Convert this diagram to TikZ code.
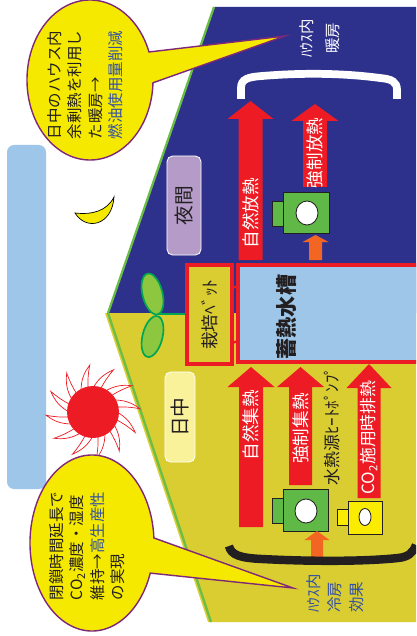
\documentclass[tikz,border=0pt]{standalone}
\usepackage{fontspec}
\setmainfont{Noto Sans CJK JP}
\usetikzlibrary{calc}

\definecolor{night}{RGB}{46,49,140}
\definecolor{day}{RGB}{218,205,50}
\definecolor{balloon}{RGB}{245,233,0}
\definecolor{balloonedge}{RGB}{128,40,120}
\definecolor{heat}{RGB}{237,28,36}
\definecolor{water}{RGB}{157,198,233}
\definecolor{roof}{RGB}{106,189,69}
\definecolor{leaf}{RGB}{141,198,63}
\definecolor{leafedge}{RGB}{0,166,81}
\definecolor{pumpgreen}{RGB}{96,184,70}
\definecolor{pumpyellow}{RGB}{250,236,0}
\definecolor{flow}{RGB}{242,101,34}
\definecolor{ink}{RGB}{35,31,32}
\definecolor{note}{RGB}{50,80,165}
\definecolor{dusk}{RGB}{180,155,200}
\definecolor{noon}{RGB}{250,242,155}

% block arrow: colour, centre x, shaft half width, head half width, tip y, head y, foot y
\newcommand{\blockarrow}[7]{%
  \fill[#1] (#2-#3,#7) -- (#2-#3,#6) -- (#2-#4,#6) -- (#2,#5) -- (#2+#4,#6) -- (#2+#3,#6) -- (#2+#3,#7) -- cycle;}

\begin{document}
\begin{tikzpicture}[x=0.025cm, y=-0.025cm, every node/.style={inner sep=0pt}]
    \tikzset{tag/.style={text=ink, rotate=90, font=\fontsize{12.5}{14}\selectfont},
      onarrow/.style={text=white, rotate=90, font=\fontsize{12.5}{14}\selectfont},
      balloontext/.style={text=ink, rotate=90, align=left, font=\fontsize{11}{14.5}\selectfont},
      balloonshape/.style={draw=balloonedge, fill=balloon, line width=1pt},
      frame/.style={draw=heat, line width=2.2pt},
      link/.style={draw=heat, line width=1.6pt},
      badge/.style={draw=white, rounded corners=4pt, line width=0.6pt, text=ink, rotate=90,
        font=\fontsize{14}{16}\selectfont},
      pumpbox/.style={draw=ink, line width=0.6pt}};
    \useasboundingbox (0,0) rectangle (416,636);
    \clip (0,0) rectangle (416,636);
    \fill[white] (0,0) rectangle (416,636);

    % house: night half on top of day half
    \fill[night] (214,7) -- (416,7) -- (416,313) -- (108,313) -- cycle;
    \fill[day] (105,313) -- (416,313) -- (416,622) -- (208,622) -- cycle;
    \draw[roof, line width=1.6pt] (214,7) -- (108,313) -- (211,622);

    % sky
    \fill[water, rounded corners=5pt] (7,145) rectangle (46,489);

    % sun and moon
    \begin{scope}[shift={(93,412)}]
      \foreach \a in {0,30,...,330}
        \draw[heat, line width=0.5pt, fill=white] (\a:24) to[bend left=18] (\a+26:47) to[bend right=6] (\a+18:24);
      \fill[heat] (0,0) circle[radius=26];
    \end{scope}
    \draw[fill=balloon, line width=0.5pt] (75,213) .. controls (86,231) and (112,226) .. (114,197)
      .. controls (107,211) and (92,215) .. (75,213) -- cycle;

    % seedling
    \draw[leafedge, line width=1.8pt] (155,314) -- (188,314);
    \draw[leafedge, fill=leaf, line width=1.2pt, rotate around={14:(152.5,294)}] (152.5,294) ellipse[x radius=10, y radius=21];
    \draw[leafedge, fill=leaf, line width=1.2pt, rotate around={-14:(152.5,336.5)}] (152.5,336.5) ellipse[x radius=10, y radius=21];

    % time of day
    \node[badge, fill=dusk, minimum width=2.475cm, minimum height=0.85cm] (nightbadge) at (184,205.5) {夜間};
    \node[badge, fill=noon, minimum width=2.25cm, minimum height=0.75cm] (daybadge) at (180,417) {日中};

    % bed and tank
    \node[frame, fill=day, minimum width=1.125cm, minimum height=2.475cm] (bed) at (209.5,314.5) {};
    \node[tag] (bedlabel) at (bed) {栽培ﾍﾞｯﾄ};
    \node[frame, fill=water, minimum width=5.05cm, minimum height=2.425cm] (tank) at (339,313.5) {};
    \node[tag, font=\bfseries\fontsize{15}{17}\selectfont] (tanklabel) at (287,317) {蓄熱水槽};
    \draw[link] ($(bed.east)+(0,-27)$) -- ($(tank.west)+(0,-27)$);
    \draw[link] ($(bed.east)+(0,28)$) -- ($(tank.west)+(0,28)$);

    % night: heat given off
    \draw[white, line width=5.5pt] (241,99) -- (241,88) .. controls (241,79) and (248,77) .. (262,76)
      .. controls (310,72) and (350,74) .. (380,78) .. controls (392,79) and (397,82) .. (397,90) -- (397,99);
    \node[text=white, rotate=90, align=center, font=\fontsize{11}{18.5}\selectfont] (warmnote) at (320,38.5) {ﾊｳｽ内\\暖房};
    \blockarrow{heat}{250.5}{12}{23}{101}{119}{260}
    \node[onarrow] (radiate) at (250.5,213) {自然放熱};
    \blockarrow{heat}{315}{12}{23.5}{104}{121}{187}
    \node[onarrow] (forcedradiate) at (315,153) {強制放熱};
    \draw[pumpbox, fill=pumpgreen] (272,201) rectangle (283,226);
    \draw[pumpbox, fill=pumpgreen] (283,192) rectangle (329,233);
    \draw[pumpbox, fill=white] (307,213) ellipse[x radius=11, y radius=12];
    \blockarrow{flow}{315.5}{6.5}{13}{235}{242}{260}

    % day: heat taken in
    \blockarrow{heat}{251}{12}{23.5}{367}{387}{527}
    \node[onarrow] (collect) at (251,425) {自然集熱};
    \blockarrow{heat}{300.5}{11.5}{23.5}{367}{387}{485}
    \node[onarrow] (forcedcollect) at (300.5,428.5) {強制集熱};
    \node[tag, font=\fontsize{12}{14}\selectfont] (heatpump) at (332,426) {水熱源ﾋｰﾄﾎﾟﾝﾌﾟ};
    \blockarrow{heat}{369}{11.5}{22.5}{364}{388}{498}
    \node[onarrow, font=\fontsize{12}{14}\selectfont] (exhaust) at (369,437.5) {CO\textsubscript{2}施用時排熱};
    \draw[pumpbox, fill=pumpgreen] (272,498) rectangle (283,523);
    \draw[pumpbox, fill=pumpgreen] (283,489) rectangle (328,531);
    \draw[pumpbox, fill=white] (306,511) ellipse[x radius=11, y radius=12];
    \draw[pumpbox, fill=pumpyellow] (337,509) rectangle (348,525);
    \draw[pumpbox, fill=pumpyellow] (348,501) rectangle (382,534);
    \draw[pumpbox, fill=white] (365,517) ellipse[x radius=6, y radius=8.5];
    \blockarrow{flow}{317}{6}{12.5}{531}{540}{557}
    \draw[ink, line width=6pt] (229,546) .. controls (231,555) and (240,558) .. (262,559)
      .. controls (320,562) and (370,561) .. (398,558) .. controls (408,557) and (413,553) .. (416,545);
    \node[text=note, rotate=90, align=left, font=\fontsize{11}{15.5}\selectfont] (coolnote) at (335,593.5) {ﾊｳｽ内\\冷房\\効果};

    % balloons
    \draw[balloonshape] ($(90,80)+(-20.5:63 and 80)$) -- (285,36) -- ($(90,80)+(2:63 and 80)$)
      arc[start angle=2, end angle=339.5, x radius=63, y radius=80] -- cycle;
    \node[balloontext] (daytip) at (85,85) {日中のハウス内\\余剰熱を利用し\\た暖房→\\\textcolor{note}{燃油使用量削減}};
    \draw[balloonshape] ($(92,543)+(-3.3:62 and 88)$) -- (293,588) -- ($(92,543)+(20:62 and 88)$)
      arc[start angle=20, end angle=356.7, x radius=62, y radius=88] -- cycle;
    \node[balloontext] (nighttip) at (87,546) {閉鎖時間延長で\\CO\textsubscript{2}濃度・湿度\\維持→\textcolor{note}{高生産性}\\の実現};
\end{tikzpicture}
\end{document}
